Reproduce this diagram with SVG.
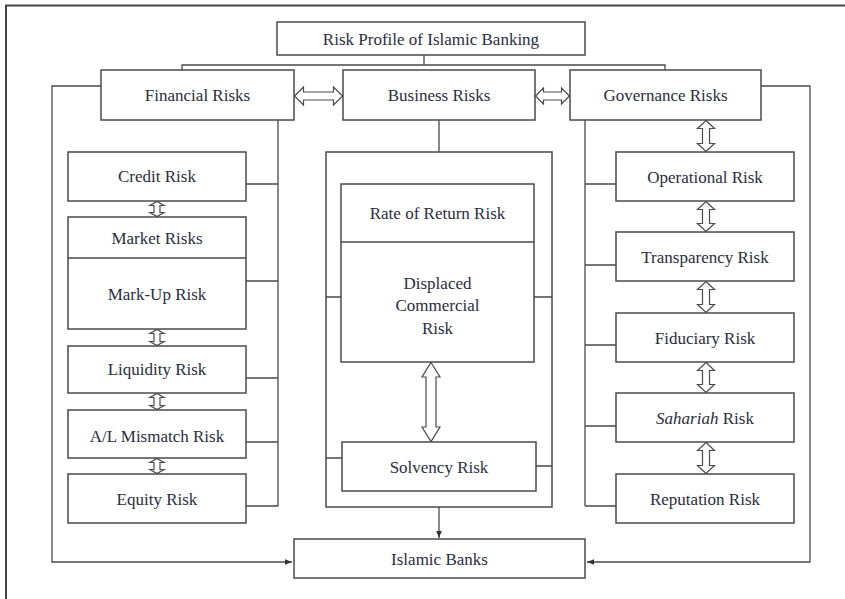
<svg xmlns="http://www.w3.org/2000/svg" width="845" height="599" viewBox="0 0 845 599">
<defs>
<style>
.box{fill:#fff;stroke:#4a4a4a;stroke-width:1.5}
.frame{fill:none;stroke:#4a4a4a;stroke-width:1.5}
.ln{fill:none;stroke:#4a4a4a;stroke-width:1.3}
.dar{fill:#fff;stroke:#4a4a4a;stroke-width:1.2;stroke-linejoin:miter}
.t{font-family:"Liberation Serif","Times New Roman",serif;font-size:17px;fill:#2a2d40;text-anchor:middle}
.it{font-style:italic}
</style>
<marker id="ah" viewBox="0 0 10 10" refX="10" refY="5" markerWidth="7" markerHeight="7" orient="auto" markerUnits="userSpaceOnUse">
<path d="M0,1 L10,5 L0,9 Z" fill="#333"/>
</marker>
</defs>
<rect width="845" height="599" fill="#fff"/>
<path d="M6,599 V5.5 H845" fill="none" stroke="#444" stroke-width="2"/>

<g id="n-container"><rect class="frame" x="326" y="152" width="226" height="355"/></g>

<g id="connectors">
<path class="ln" d="M182,70 V65 H665 V70 M424,55 V65"/>
<path class="ln" d="M101,86 H52 V562 H292" marker-end="url(#ah)"/>
<path class="ln" d="M761,86 H810 V562 H587" marker-end="url(#ah)"/>
<path class="ln" d="M278,120 V506 M246,184 H278 M246,281 H278 M246,378 H278 M246,442 H278 M246,506 H278"/>
<path class="ln" d="M439,120 V152 M326,297 H341 M534,297 H552 M326,458 H342 M536,466 H552"/>
<path class="ln" d="M439,507 V538" marker-end="url(#ah)"/>
<path class="ln" d="M585,120 V506 M585,184 H616 M585,265 H616 M585,345 H616 M585,426 H616 M585,506 H616"/>
<polygon class="dar" points="294.5,96 303.5,87 303.5,92 333.5,92 333.5,87 342.5,96 333.5,105 333.5,100 303.5,100 303.5,105"/>
<polygon class="dar" points="535.5,96 543.5,88 543.5,92 561.5,92 561.5,88 569.5,96 561.5,104 561.5,100 543.5,100 543.5,104"/>
<polygon class="dar" points="706,120.5 714.5,128.5 709.5,128.5 709.5,143.5 714.5,143.5 706,151.5 697.5,143.5 702.5,143.5 702.5,128.5 697.5,128.5"/>
<polygon class="dar" points="706,201.5 714.5,209.5 709.5,209.5 709.5,223.5 714.5,223.5 706,231.5 697.5,223.5 702.5,223.5 702.5,209.5 697.5,209.5"/>
<polygon class="dar" points="706,281.5 714.5,289.5 709.5,289.5 709.5,304.5 714.5,304.5 706,312.5 697.5,304.5 702.5,304.5 702.5,289.5 697.5,289.5"/>
<polygon class="dar" points="706,362.5 714.5,370.5 709.5,370.5 709.5,384.5 714.5,384.5 706,392.5 697.5,384.5 702.5,384.5 702.5,370.5 697.5,370.5"/>
<polygon class="dar" points="706,442.5 714.5,450.5 709.5,450.5 709.5,465.5 714.5,465.5 706,473.5 697.5,465.5 702.5,465.5 702.5,450.5 697.5,450.5"/>
<polygon class="dar" points="431,362.5 440,377 436,377 436,427 440,427 431,441.5 422,427 426,427 426,377 422,377"/>
<polygon class="dar" points="157,201.5 164,205.5 160,205.5 160,212.5 164,212.5 157,216.5 150,212.5 154,212.5 154,205.5 150,205.5"/>
<polygon class="dar" points="157,329.5 164,333.5 160,333.5 160,341.5 164,341.5 157,345.5 150,341.5 154,341.5 154,333.5 150,333.5"/>
<polygon class="dar" points="157,393.5 164,397.5 160,397.5 160,405.5 164,405.5 157,409.5 150,405.5 154,405.5 154,397.5 150,397.5"/>
<polygon class="dar" points="157,458.5 164,462.5 160,462.5 160,469.5 164,469.5 157,473.5 150,469.5 154,469.5 154,462.5 150,462.5"/>
</g>

<g id="n-top"><rect class="box" x="277" y="22" width="308" height="33"/><text class="t" x="431" y="45">Risk Profile of Islamic Banking</text></g>
<g id="n-financial"><rect class="box" x="101" y="70" width="193" height="50"/><text class="t" x="197.5" y="101">Financial Risks</text></g>
<g id="n-business"><rect class="box" x="343" y="70" width="192" height="50"/><text class="t" x="439" y="101">Business Risks</text></g>
<g id="n-governance"><rect class="box" x="570" y="70" width="191" height="50"/><text class="t" x="665.5" y="101">Governance Risks</text></g>

<g id="n-credit"><rect class="box" x="68" y="152" width="178" height="49"/><text class="t" x="157" y="182">Credit Risk</text></g>
<g id="n-market"><rect class="box" x="68" y="217" width="178" height="112"/><line class="ln" x1="68" y1="258" x2="246" y2="258"/><text class="t" x="157" y="244">Market Risks</text><text class="t" x="157" y="300">Mark-Up Risk</text></g>
<g id="n-liquidity"><rect class="box" x="68" y="346" width="178" height="47"/><text class="t" x="157" y="375">Liquidity Risk</text></g>
<g id="n-almismatch"><rect class="box" x="68" y="410" width="178" height="48"/><text class="t" x="157" y="442">A/L Mismatch Risk</text></g>
<g id="n-equity"><rect class="box" x="68" y="474" width="178" height="49"/><text class="t" x="157" y="505">Equity Risk</text></g>

<g id="n-rateofreturn"><rect class="box" x="341" y="184" width="193" height="178"/><line class="ln" x1="341" y1="242" x2="534" y2="242"/><text class="t" x="437.5" y="219">Rate of Return Risk</text><text class="t" x="437.5" y="289">Displaced</text><text class="t" x="437.5" y="311">Commercial</text><text class="t" x="437.5" y="334">Risk</text></g>
<g id="n-solvency"><rect class="box" x="342" y="442" width="194" height="49"/><text class="t" x="439" y="473">Solvency Risk</text></g>

<g id="n-operational"><rect class="box" x="616" y="152" width="178" height="49"/><text class="t" x="705" y="183">Operational Risk</text></g>
<g id="n-transparency"><rect class="box" x="616" y="232" width="178" height="49"/><text class="t" x="705" y="263">Transparency Risk</text></g>
<g id="n-fiduciary"><rect class="box" x="616" y="313" width="178" height="49"/><text class="t" x="705" y="344">Fiduciary Risk</text></g>
<g id="n-sahariah"><rect class="box" x="616" y="393" width="178" height="49"/><text class="t" x="705" y="424"><tspan class="it">Sahariah</tspan> Risk</text></g>
<g id="n-reputation"><rect class="box" x="616" y="474" width="178" height="49"/><text class="t" x="705" y="505">Reputation Risk</text></g>

<g id="n-islamicbanks"><rect class="box" x="294" y="539" width="291" height="39"/><text class="t" x="439.5" y="565">Islamic Banks</text></g>
</svg>
